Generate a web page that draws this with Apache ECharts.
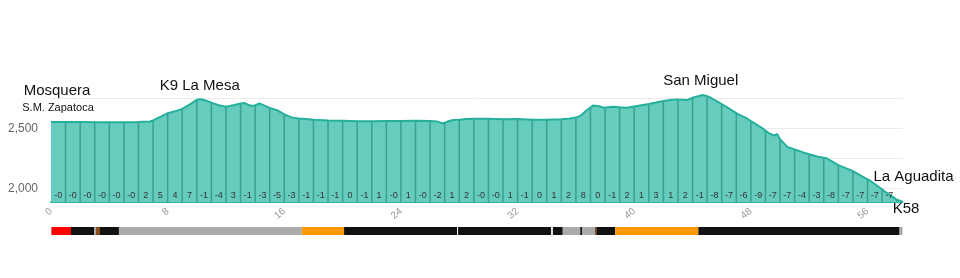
<!DOCTYPE html>
<html><head><meta charset="utf-8">
<script src="https://cdn.jsdelivr.net/npm/echarts@6/dist/echarts.min.js"></script>
<style>html,body{margin:0;padding:0;background:#fff}#c{width:960px;height:278px}</style>
</head><body><div id="c"></div>
<script>
// Elevation profile (km, metres)
const profileKm = [0,1,2,3,4,5,6,6.8,7,7.6,8,8.5,9,9.5,10,10.3,10.6,11,11.5,12,12.5,13,13.3,13.6,13.9,14,14.3,14.6,15,15.5,16,16.5,17,17.5,18,19,20,21,22,23,24,25,26,26.5,26.9,27,27.3,27.6,28,28.5,29,30,31,32,33,34,35,35.6,36,36.3,36.7,37,37.2,37.6,37.9,38,38.5,39,39.5,40,40.6,41,41.5,42,42.5,42.9,43,43.3,43.6,44,44.7,45,45.2,45.8,46,46.4,47,47.4,47.6,47.7,48,48.2,48.8,49,49.3,49.6,49.8,50,50.5,51,51.6,52,52.6,53,53.2,54,55,55.6,56,56.2,57,57.3,58,58.4];
const profileElev = [2552,2551,2551,2550,2550,2550,2552,2556,2565,2600,2625,2640,2660,2695,2735,2740,2730,2712,2690,2678,2690,2705,2708,2690,2684,2690,2706,2690,2668,2650,2615,2590,2580,2577,2570,2565,2562,2558,2557,2560,2561,2562,2560,2555,2540,2545,2560,2568,2570,2576,2579,2578,2574,2576,2570,2571,2574,2581,2590,2601,2645,2672,2689,2682,2670,2672,2678,2673,2670,2680,2692,2700,2713,2725,2733,2739,2738,2736,2733,2752,2775,2765,2755,2715,2700,2670,2625,2600,2590,2580,2560,2545,2500,2480,2455,2440,2452,2410,2345,2325,2300,2285,2265,2256,2252,2195,2146,2105,2078,2064,1995,1967,1910,1892];
// Grade (%) per kilometre, km 0..57
const gradeLabels = ['-0','-0','-0','-0','-0','-0','2','5','4','7','-1','-4','3','-1','-3','-5','-3','-1','-1','-1','0','-1','1','-0','1','-0','-2','1','2','-0','-0','1','-1','0','1','2','8','0','-1','2','1','3','1','2','-1','-8','-7','-6','-9','-7','-7','-4','-3','-8','-7','-7','-7','-7'];
// Axis ticks
const yLabelValues = [2000, 2500];
const yGridValues = [2000, 2250, 2500, 2750];
// Places
const placeNames = ['Mosquera', 'K9 La Mesa', 'San Miguel', 'La Aguadita', 'K58'];
const placeSub = ['S.M. Zapatoca', '', '', '', ''];
const placeKm = [0, 10.2, 44.7, 58.4, 58.4];
const placeElev = [2552, 2740, 2775, 1892, 1892];
// Surface segments (km)
const surfaceStart = [0, 0.03, 1.37, 2.98, 3.09, 3.36, 4.66, 17.2, 20.1, 27.92, 34.42, 35.1, 36.3, 36.42, 37.3, 37.4, 38.7, 44.4, 58.2];
const surfaceEnd   = [0.03, 1.37, 2.98, 3.09, 3.36, 4.66, 17.2, 20.1, 27.85, 34.3, 35.1, 36.3, 36.42, 37.3, 37.4, 38.7, 44.4, 58.2, 58.4];
const surfaceType  = ['g','r','k','g','b','k','g','o','k','k','k','g','k','g','b','k','o','k','g'];

const surfaceColors = { r: '#ff0000', k: '#111111', g: '#aaaaaa', b: '#8b4a1a', o: '#ff9900' };
const labelOffsets = [[6, -31], [0, -13], [-2, -14], [11, -25], [3.5, 7]];
const Y_MIN = 1890, Y_MAX = 2800, X_MAX = 58.4;
const FONT = '"Liberation Sans", Arial, sans-serif';

const profile = profileKm.map((k, i) => [k, profileElev[i]]);
const dividers = profile.filter(p => Number.isInteger(p[0]) && p[0] > 0);
const grades = gradeLabels.map((g, i) => [i + 0.5, g]);
const places = placeNames.map((n, i) => [placeKm[i], placeElev[i], i]);
const surfaces = surfaceStart.map((s, i) => [s, surfaceEnd[i], i]);

const chart = echarts.init(document.getElementById('c'), null, { renderer: 'canvas' });
chart.setOption({
  animation: false,
  grid: [
    { left: 51, right: 57.5, top: 92, height: 110 },
    { left: 51, right: 57.5, top: 227, height: 8 }
  ],
  xAxis: [
    { gridIndex: 0, type: 'value', min: 0, max: X_MAX, interval: 8,
      axisLine: { show: true, lineStyle: { color: '#2db4a0', width: 2 } },
      axisTick: { show: false }, splitLine: { show: false },
      axisLabel: { rotate: 40, color: '#999', fontSize: 10, fontFamily: FONT, margin: 8,
        showMaxLabel: false } },
    { gridIndex: 1, type: 'value', min: 0, max: X_MAX, show: false }
  ],
  yAxis: [
    { gridIndex: 0, type: 'value', min: Y_MIN, max: Y_MAX,
      axisLine: { show: false },
      axisTick: { show: false, customValues: yGridValues },
      splitLine: { show: true, lineStyle: { color: '#ebebeb', width: 1 } },
      axisLabel: { customValues: yLabelValues, color: '#666', fontSize: 12, fontFamily: FONT, margin: 13,
        formatter: v => v.toLocaleString('en-US') } },
    { gridIndex: 1, type: 'category', data: ['surface'], show: false }
  ],
  series: [
    { type: 'line', xAxisIndex: 0, yAxisIndex: 0, data: profile, symbol: 'none', z: 1,
      lineStyle: { width: 0 }, areaStyle: { color: '#66ccbd', opacity: 1 } },
    { type: 'custom', xAxisIndex: 0, yAxisIndex: 0, data: dividers, z: 2, silent: true,
      renderItem: (params, api) => {
        const top = api.coord([api.value(0), api.value(1)]);
        const bot = api.coord([api.value(0), Y_MIN]);
        return { type: 'line', shape: { x1: top[0], y1: top[1], x2: bot[0], y2: bot[1] },
          style: { stroke: '#3a9f8f', lineWidth: 1.5 } };
      } },
    { type: 'line', xAxisIndex: 0, yAxisIndex: 0, data: profile, symbol: 'none', z: 3,
      lineStyle: { color: '#26b09c', width: 2 } },
    { type: 'custom', xAxisIndex: 0, yAxisIndex: 0, data: grades, z: 4, silent: true,
      renderItem: (params, api) => {
        const p = api.coord([api.value(0), Y_MIN]);
        return { type: 'text', x: p[0], y: p[1] - 6,
          style: { text: gradeLabels[params.dataIndex], fill: '#333', font: '9px ' + FONT,
            align: 'center', verticalAlign: 'middle' } };
      } },
    { type: 'custom', xAxisIndex: 0, yAxisIndex: 0, data: places, z: 5, silent: true, clip: false,
      renderItem: (params, api) => {
        const i = params.dataIndex;
        const p = api.coord([api.value(0), api.value(1)]);
        const o = labelOffsets[i];
        const children = [{ type: 'text', x: p[0] + o[0], y: p[1] + o[1],
          style: { text: placeNames[i], fill: '#111', font: '15px ' + FONT, align: 'center', verticalAlign: 'middle' } }];
        if (placeSub[i]) {
          children.push({ type: 'text', x: p[0] + o[0] + 1, y: p[1] + o[1] + 17,
            style: { text: placeSub[i], fill: '#111', font: '11px ' + FONT, align: 'center', verticalAlign: 'middle' } });
        }
        return { type: 'group', children };
      } },
    { type: 'custom', xAxisIndex: 1, yAxisIndex: 1, data: surfaces, silent: true,
      renderItem: (params, api) => {
        const a = api.coord([api.value(0), 0]);
        const b = api.coord([api.value(1), 0]);
        const h = api.size([0, 1])[1];
        return { type: 'rect', shape: { x: a[0], y: a[1] - h / 2, width: b[0] - a[0], height: h },
          style: { fill: surfaceColors[surfaceType[params.dataIndex]] } };
      } }
  ]
});
</script>
</body></html>
